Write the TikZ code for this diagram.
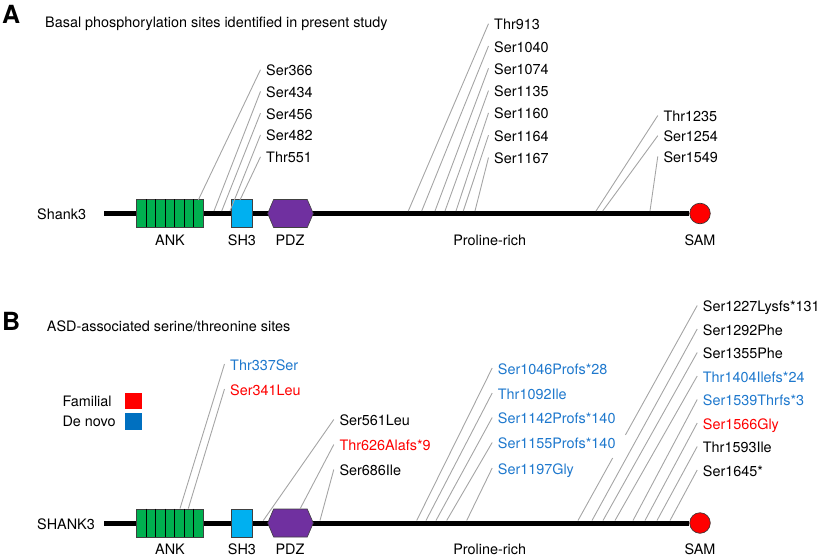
\documentclass[tikz,border=0pt]{standalone}
\usepackage{fontspec}
\setmainfont{TeX Gyre Heros}
\definecolor{ankgreen}{RGB}{0,176,80}
\definecolor{shcyan}{RGB}{0,176,240}
\definecolor{pdzpurple}{RGB}{112,48,160}
\definecolor{samred}{RGB}{255,0,0}
\definecolor{txtblue}{RGB}{30,120,205}
\definecolor{txtred}{RGB}{255,0,0}
\definecolor{legblue}{RGB}{0,112,192}
\definecolor{sitegray}{RGB}{165,165,165}
\tikzset{
  lab/.style={font=\fontsize{14.4}{16}\selectfont, anchor=base west, inner sep=0pt},
  domlab/.style={font=\fontsize{14.4}{16}\selectfont, anchor=base, inner sep=0pt},
  panel/.style={font=\fontsize{25}{25}\selectfont\bfseries, anchor=base west, inner sep=0pt},
  site/.style={draw=sitegray, line width=0.9pt},
  backbone/.style={line width=5pt},
  boxdraw/.style={draw=black!75, line width=0.6pt},
  sam/.style={circle, draw=black!80, line width=0.6pt, fill=samred, minimum size=20.6pt, inner sep=0pt},
  legsq/.style={minimum width=17pt, minimum height=16.5pt, inner sep=0pt},
}
% #1 extra line style, #2 name, #3 label x, #4 baseline, #5 bottom x, #6 bottom y, #7 colour, #8 text
\newcommand\mysite[8][]{%
  \node[lab, text=#7] (#2) at (#3,#4) {#8};
  \coordinate (#2t) at ({#3-5.5},{#4-6});
  \coordinate (#2b) at (#5,#6);
  \draw[site,#1] (#2t) -- (#2b);
}
% #1 y of backbone, #2 prefix, #3 protein name
\newcommand\drawprotein[3]{%
  \coordinate (#2start) at (104,#1);
  \node[sam] (#2sam) at (700,#1) {};
  \draw[backbone] (#2start) -- (#2sam.west);
  \node[lab, anchor=base west] (#2name) at (37,{#1+6}) {#3};
  \node[boxdraw, fill=ankgreen, minimum width=66.6pt, minimum height=28pt, inner sep=0pt] (#2ank) at (170,{#1}) {};
  \foreach \i in {1,...,6} \draw[black, line width=0.8pt] (#2ank.north west) ++({9.514*\i},0) -- ++(0,28);
  \node[boxdraw, fill=shcyan, minimum width=21pt, minimum height=28pt, inner sep=0pt] (#2sh) at (241.3,{#1}) {};
  \draw[boxdraw, fill=pdzpurple] (267.7,{#1}) -- (273.6,{#1-14}) -- (307.3,{#1-14}) -- (313.3,{#1}) -- (307.3,{#1+14}) -- (273.6,{#1+14}) -- cycle;
  \node[domlab] (#2ankl) at (170,{#1+31.7}) {ANK};
  \node[domlab] (#2shl) at (242,{#1+31.7}) {SH3};
  \node[domlab] (#2pdzl) at (290,{#1+31.7}) {PDZ};
  \node[domlab] (#2prol) at (489.7,{#1+31.7}) {Proline-rich};
  \node[domlab] (#2saml) at (700,{#1+31.7}) {SAM};
}
\begin{document}
\begin{tikzpicture}[x=1pt, y=-1pt]
\useasboundingbox (0,0) rectangle (820,557);
% ---------------- Panel A ----------------
\node[panel] (pA) at (2,23.3) {A};
\node[lab] (titleA) at (45,27) {Basal phosphorylation sites identified in present study};
\drawprotein{213.5}{a}{Shank3}
\mysite{s366}{266}{75.7}{198.3}{200}{black}{Ser366}
\mysite{s434}{266}{97.4}{214}{211}{black}{Ser434}
\mysite{s456}{266}{119.1}{221.7}{211}{black}{Ser456}
\mysite{s482}{266}{140.9}{230}{211}{black}{Ser482}
\mysite{t551}{266}{162.8}{240}{200}{black}{Thr551}
\mysite{t913}{494}{29.7}{408.3}{211}{black}{Thr913}
\mysite{s1040}{494}{52}{421.7}{211}{black}{Ser1040}
\mysite{s1074}{494}{74.3}{435}{211}{black}{Ser1074}
\mysite{s1135}{494}{96.6}{445}{211}{black}{Ser1135}
\mysite{s1160}{494}{118.9}{456}{211}{black}{Ser1160}
\mysite{s1164}{494}{141.2}{463.3}{211}{black}{Ser1164}
\mysite{s1167}{494}{163.5}{475}{211}{black}{Ser1167}
\mysite{t1235}{663.3}{121.5}{596}{211}{black}{Thr1235}
\mysite{s1254}{663.3}{141.7}{602.7}{211}{black}{Ser1254}
\mysite{s1549}{663.3}{162.3}{650}{211}{black}{Ser1549}
% ---------------- Panel B ----------------
\node[panel] (pB) at (2,330) {B};
\node[lab] (titleB) at (46.7,331.5) {ASD-associated serine/threonine sites};
\node[lab] (famil) at (62.3,406.7) {Familial};
\node[lab] (denovo) at (62.3,426.7) {De novo};
\node[legsq, fill=samred] (famsq) at (133,401) {};
\node[legsq, fill=legblue] (dnsq) at (133,421.3) {};
\drawprotein{523}{b}{SHANK3}
\mysite{bt337}{230}{370}{180}{508.5}{txtblue}{Thr337Ser}
\mysite{bs341}{230}{395}{188.3}{508.5}{txtred}{Ser341Leu}
\mysite{bs561}{339.3}{425.5}{263.3}{520.5}{black}{Ser561Leu}
\mysite{bt626}{339.3}{450.5}{300}{509}{txtred}{Thr626Alafs*9}
\mysite{bs686}{339.3}{475.5}{320}{520.5}{black}{Ser686Ile}
\mysite{bs1046}{497.7}{374}{416.7}{520.5}{txtblue}{Ser1046Profs*28}
\mysite{bt1092}{497.7}{399}{426}{520.5}{txtblue}{Thr1092Ile}
\mysite{bs1142}{497.7}{423.5}{436}{520.5}{txtblue}{Ser1142Profs*140}
\mysite{bs1155}{497.7}{448.5}{446.7}{520.5}{txtblue}{Ser1155Profs*140}
\mysite{bs1197}{497.7}{474}{466.7}{520.5}{txtblue}{Ser1197Gly}
\mysite[dash pattern=on 148pt off 26.4pt on 200pt]{bs1227}{702.7}{311.5}{578}{520.5}{black}{Ser1227Lysfs*131}
\mysite{bs1292}{702.7}{335}{592}{520.5}{black}{Ser1292Phe}
\mysite{bs1355}{702.7}{358.5}{603}{520.5}{black}{Ser1355Phe}
\mysite{bt1404}{702.7}{382}{615}{520.5}{txtblue}{Thr1404Ilefs*24}
\mysite{bs1539}{702.7}{405.5}{633}{520.5}{txtblue}{Ser1539Thrfs*3}
\mysite{bs1566}{702.7}{429}{645}{520.5}{txtred}{Ser1566Gly}
\mysite{bt1593}{702.7}{452.5}{657}{520.5}{black}{Thr1593Ile}
\mysite{bs1645}{702.7}{476}{670}{520.5}{black}{Ser1645*}
\end{tikzpicture}
\end{document}
